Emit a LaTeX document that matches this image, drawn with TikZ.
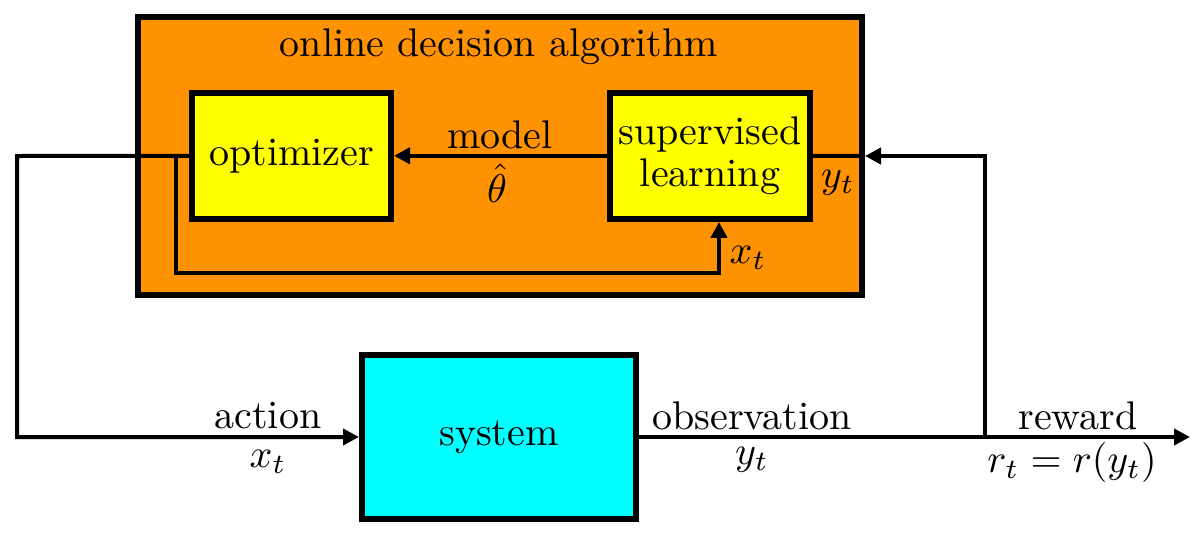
\documentclass[tikz,border=0pt]{standalone}
\usepackage{amsmath,amssymb}
\usepackage{tikz}
\usetikzlibrary{arrows.meta,positioning,calc}
\definecolor{algOrange}{HTML}{FF9200}
\definecolor{blkYellow}{HTML}{FFFF00}
\definecolor{sysCyan}{HTML}{00FFFF}

\begin{document}
\begin{tikzpicture}[x=0.25pt,y=-0.25pt,font=\normalsize,
  blk/.style={draw,line width=1.5pt,inner sep=0pt,align=center},
  wire/.style={line width=1pt},
  sig/.style={wire,-{Triangle[length=4pt,width=4pt]}},
  lbl/.style={inner sep=0pt}]
\useasboundingbox (0,0) rectangle (1203,538);
% boxes
\node[blk,fill=algOrange,minimum width=181pt,minimum height=69.5pt] (alg) at (500,156) {};
\node[blk,fill=blkYellow,minimum width=49.75pt,minimum height=31.6pt] (opt) at (291.5,155.75) {optimizer};
\node[blk,fill=blkYellow,minimum width=50pt,minimum height=31.6pt] (sup) at (710,155.75) {supervised\\[-1.5pt]learning};
\node[blk,fill=sysCyan,minimum width=68.5pt,minimum height=41pt] (sys) at (499,437) {system};
% free ends of the wires
\coordinate (lc) at (17,156);
\coordinate (fb) at (176,156);
\coordinate (fbx) at (719,273);
\coordinate (tap) at (985,437);
\coordinate (out) at (1190,437);
% wires
\draw[sig] (sup.west) -- (opt.east);
\draw[sig] (opt.west) -- (lc) |- (sys.west);
\draw[sig] (fb) |- (fbx) -- (fbx |- sup.south);
\draw[sig] (sys.east) -- (out);
\draw[sig] (tap) |- (alg.east);
\draw[wire] (alg.east) -- (sup.east);
% labels
\foreach \nm/\x/\y/\lab in {tAlg/499/47/online decision algorithm,
    tModel/500/135/model, tTheta/497/183/$\hat{\theta}$,
    tYin/838/183/$y_t$, tXin/748/258/$x_t$,
    tAct/268/416/action, tXout/268/462/$x_t$,
    tObs/752/416/observation, tYout/752/460/$y_t$,
    tRew/1078/416/reward, tR/1072/462/$r_t=r(y_t)$}
  \node[lbl] (\nm) at (\x,\y) {\lab};
\end{tikzpicture}
\end{document}
